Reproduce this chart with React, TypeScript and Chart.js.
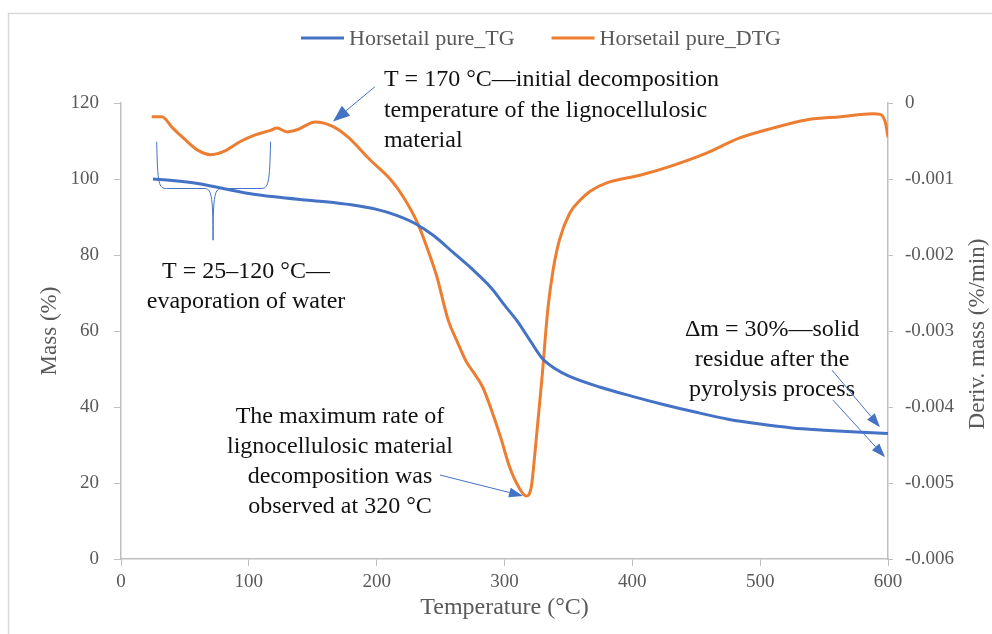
import React, { useEffect, useRef } from "react";
import { Chart, registerables } from "chart.js";

Chart.register(...registerables);

// ---- Data ----
const seriesLabels = ["Horsetail pure_TG", "Horsetail pure_DTG"];
const seriesColors = ["#4472C4", "#ED7D31"];

const tgTemperature = [25, 40, 60, 80, 100, 120, 140, 160, 180, 200, 215, 230, 245, 260, 275, 290, 300, 310, 320, 330, 340, 350, 375, 400, 425, 450, 475, 500, 525, 550, 575, 600];
const tgMass = [100, 99.6, 98.8, 97.5, 96.2, 95.3, 94.6, 94.0, 93.2, 92.0, 90.5, 88.3, 85.0, 80.6, 76.2, 71.2, 66.8, 62.6, 57.5, 52.6, 50.0, 48.2, 45.2, 42.8, 40.6, 38.6, 36.8, 35.5, 34.5, 33.9, 33.4, 33.0];

const dtgTemperature = [24, 32, 40, 50, 60, 70, 80, 93, 105, 117, 122, 130, 138, 152, 166, 177, 195, 211, 221, 232, 240, 247, 256, 263, 270, 276, 283, 290, 297, 304, 311, 317, 321, 324, 329, 334, 338, 343, 351, 359, 367, 380, 406, 432, 458, 484, 510, 537, 563, 588, 594, 598, 600];
const dtgRate = [-0.00018, -0.00018, -0.00032, -0.00048, -0.00062, -0.00068, -0.00064, -0.00051, -0.00042, -0.00036, -0.00033, -0.00038, -0.00035, -0.00025, -0.00031, -0.00044, -0.00075, -0.00101, -0.00124, -0.00158, -0.00193, -0.00228, -0.00286, -0.00314, -0.0034, -0.00355, -0.00374, -0.00405, -0.0044, -0.00479, -0.00505, -0.00517, -0.00505, -0.00457, -0.00368, -0.0027, -0.0022, -0.0018, -0.00145, -0.00128, -0.00116, -0.00105, -0.00095, -0.00082, -0.00066, -0.00046, -0.00033, -0.00022, -0.00018, -0.00014, -0.00015, -0.00026, -0.00045];

const xTitle = "Temperature (°C)";
const yTitle = "Mass (%)";
const y1Title = "Deriv. mass (%/min)";

const FONT = "'Liberation Serif', 'Times New Roman', serif";
const GREY_TEXT = "#595959";
const AXIS_GREY = "#bfbfbf";
const ARROW_BLUE = "#4472C4";

function drawArrow(ctx: CanvasRenderingContext2D, x1: number, y1: number, x2: number, y2: number, headLen: number, headW: number) {
  const ang = Math.atan2(y2 - y1, x2 - x1);
  const bx = x2 - headLen * Math.cos(ang);
  const by = y2 - headLen * Math.sin(ang);
  ctx.beginPath();
  ctx.moveTo(x1, y1);
  ctx.lineTo(bx, by);
  ctx.stroke();
  ctx.beginPath();
  ctx.moveTo(x2, y2);
  ctx.lineTo(bx + (headW / 2) * Math.sin(ang), by - (headW / 2) * Math.cos(ang));
  ctx.lineTo(bx - (headW / 2) * Math.sin(ang), by + (headW / 2) * Math.cos(ang));
  ctx.closePath();
  ctx.fill();
}

const decorPlugin = {
  id: "decor",
  beforeDraw(chart: any) {
    const ctx = chart.ctx as CanvasRenderingContext2D;
    ctx.save();
    ctx.fillStyle = "#ffffff";
    ctx.fillRect(0, 0, chart.width, chart.height);
    ctx.strokeStyle = "#d9d9d9";
    ctx.lineWidth = 1.5;
    ctx.strokeRect(8.5, 13.5, 2000, 2000);
    ctx.restore();
  },
  afterDraw(chart: any) {
    const ctx = chart.ctx as CanvasRenderingContext2D;
    const xs = chart.scales.x;
    const ys = chart.scales.y;
    const px = (t: number) => xs.getPixelForValue(t);
    const py = (m: number) => ys.getPixelForValue(m);
    ctx.save();

    // Legend
    ctx.font = `22px ${FONT}`;
    ctx.textBaseline = "middle";
    const sample = 43;
    const gapText = 5;
    const gapItem = 37;
    const w0 = ctx.measureText(seriesLabels[0]).width;
    const w1 = ctx.measureText(seriesLabels[1]).width;
    const total = sample + gapText + w0 + gapItem + sample + gapText + w1;
    let lx = 541 - total / 2;
    const ly = 38;
    [0, 1].forEach((i) => {
      ctx.strokeStyle = seriesColors[i];
      ctx.lineWidth = 3;
      ctx.beginPath();
      ctx.moveTo(lx, ly);
      ctx.lineTo(lx + sample, ly);
      ctx.stroke();
      lx += sample + gapText;
      ctx.fillStyle = GREY_TEXT;
      ctx.textAlign = "left";
      ctx.fillText(seriesLabels[i], lx, ly + 1);
      lx += (i === 0 ? w0 : w1) + gapItem;
    });

    // Right axis title (reads bottom to top)
    const ca = chart.chartArea;
    ctx.save();
    ctx.translate(978, (ca.top + ca.bottom) / 2 + 3);
    ctx.rotate(-Math.PI / 2);
    ctx.font = `23px ${FONT}`;
    ctx.fillStyle = GREY_TEXT;
    ctx.textAlign = "center";
    ctx.textBaseline = "middle";
    ctx.fillText(y1Title, 0, 0);
    ctx.restore();

    // Annotation texts
    ctx.font = `24px ${FONT}`;
    ctx.fillStyle = "#111111";
    ctx.textBaseline = "middle";

    ctx.textAlign = "left";
    const a1 = ["T = 170 °C\u2014initial decomposition", "temperature of the lignocellulosic", "material"];
    [126.05, 117.9, 110.0].forEach((m, i) => ctx.fillText(a1[i], px(205.7), py(m)));

    ctx.textAlign = "center";
    const a2 = ["T = 25\u2013120 °C\u2014", "evaporation of water"];
    [75.5, 67.6].forEach((m, i) => ctx.fillText(a2[i], px(97.8), py(m)));

    const a3 = ["The maximum rate of", "lignocellulosic material", "decomposition was", "observed at 320 °C"];
    [37.4, 29.5, 21.6, 13.7].forEach((m, i) => ctx.fillText(a3[i], px(171.3), py(m)));

    const a4 = ["\u0394m = 30%\u2014solid", "residue after the", "pyrolysis process"];
    [60.3, 52.4, 44.5].forEach((m, i) => ctx.fillText(a4[i], px(509.3), py(m)));

    // Arrows
    ctx.strokeStyle = ARROW_BLUE;
    ctx.fillStyle = ARROW_BLUE;
    ctx.lineWidth = 1;
    drawArrow(ctx, px(198.7), py(124.3), px(165.8), py(115.1), 17, 13);
    drawArrow(ctx, px(249.5), py(22.1), px(314.5), py(16.6), 14, 10);
    drawArrow(ctx, px(556.2), py(49.7), px(593.7), py(34.7), 14, 10);
    drawArrow(ctx, px(557.0), py(41.8), px(597.7), py(26.8), 14, 10);

    // Bracket for water evaporation
    const xL = px(27.9), xR = px(117.0), xM = px(72.0);
    const yTop = py(109.8), yH = py(97.5), yS = py(83.9);
    ctx.beginPath();
    ctx.moveTo(xL, yTop);
    ctx.bezierCurveTo(xL + 1, yH - 4, xL + 2, yH, xL + 10, yH);
    ctx.lineTo(xM - 9, yH);
    ctx.bezierCurveTo(xM - 2, yH, xM, yH + 4, xM, yS);
    ctx.bezierCurveTo(xM, yH + 4, xM + 2, yH, xM + 9, yH);
    ctx.lineTo(xR - 10, yH);
    ctx.bezierCurveTo(xR - 2, yH, xR - 1, yH - 4, xR, yTop);
    ctx.stroke();

    ctx.restore();
  },
};

export default function App() {
  const canvasRef = useRef<HTMLCanvasElement | null>(null);

  useEffect(() => {
    if (!canvasRef.current) return;
    Chart.defaults.font.family = FONT;
    const tgPoints = tgTemperature.map((t, i) => ({ x: t, y: tgMass[i] }));
    const dtgPoints = dtgTemperature.map((t, i) => ({ x: t, y: dtgRate[i] }));

    const chart = new Chart(canvasRef.current, {
      type: "line",
      data: {
        datasets: [
          {
            label: seriesLabels[0],
            data: tgPoints,
            borderColor: seriesColors[0],
            backgroundColor: seriesColors[0],
            borderWidth: 3,
            pointRadius: 0,
            cubicInterpolationMode: "monotone",
            yAxisID: "y",
          },
          {
            label: seriesLabels[1],
            data: dtgPoints,
            borderColor: seriesColors[1],
            backgroundColor: seriesColors[1],
            borderWidth: 3,
            pointRadius: 0,
            cubicInterpolationMode: "monotone",
            yAxisID: "y1",
          },
        ],
      },
      options: {
        responsive: false,
        animation: false,
        events: [],
        layout: { padding: { top: 103, left: 0, right: 0, bottom: 0 } },
        plugins: {
          legend: { display: false },
          tooltip: { enabled: false },
        },
        scales: {
          x: {
            type: "linear",
            position: "bottom",
            min: 0,
            max: 600,
            ticks: { stepSize: 100, color: GREY_TEXT, font: { size: 19 }, padding: 5 },
            grid: { display: true, drawOnChartArea: false, drawTicks: true, tickLength: 7, color: AXIS_GREY },
            border: { display: true, color: AXIS_GREY, width: 1.5 },
            title: { display: true, text: xTitle, color: GREY_TEXT, font: { size: 24 }, padding: { top: 0, bottom: 12 } },
            afterFit: (s: any) => { s.height = 75; },
          },
          y: {
            type: "linear",
            position: "left",
            min: 0,
            max: 120,
            ticks: { stepSize: 20, color: GREY_TEXT, font: { size: 19 }, padding: 15 },
            grid: { display: true, drawOnChartArea: false, drawTicks: true, tickLength: 7, color: AXIS_GREY },
            border: { display: true, color: AXIS_GREY, width: 1.5 },
            title: { display: true, text: yTitle, color: GREY_TEXT, font: { size: 23 }, padding: { top: 36, bottom: 0 } },
            afterFit: (s: any) => { s.width = 121; },
          },
          y1: {
            type: "linear",
            position: "right",
            min: -0.006,
            max: 0,
            ticks: {
              stepSize: 0.001,
              color: GREY_TEXT,
              font: { size: 19 },
              padding: 12,
              callback: (v: any) => (Math.abs(Number(v)) < 1e-9 ? "0" : Number(v).toFixed(3)),
            },
            grid: { display: true, drawOnChartArea: false, drawTicks: true, tickLength: 5, color: AXIS_GREY },
            border: { display: true, color: AXIS_GREY, width: 1.5 },
            title: { display: false, text: y1Title },
            afterFit: (s: any) => { s.width = 104; },
          },
        },
      },
      plugins: [decorPlugin],
    } as any);

    return () => chart.destroy();
  }, []);

  return (
    <div style={{ position: "fixed", left: 0, top: 0, width: 992, height: 634, background: "#fff" }}>
      <canvas ref={canvasRef} width={992} height={634} style={{ display: "block", width: 992, height: 634 }} />
    </div>
  );
}
